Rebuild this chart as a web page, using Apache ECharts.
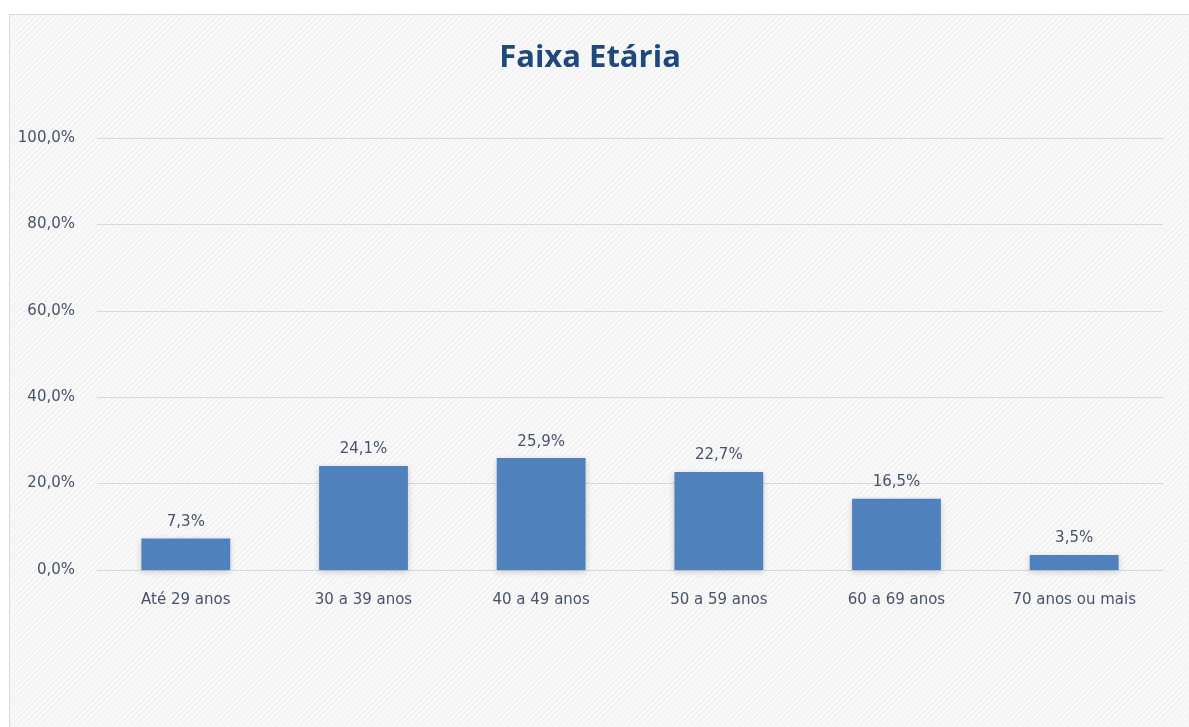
<!DOCTYPE html>
<html>
<head>
<meta charset="utf-8">
<title>Faixa Etária</title>
<script src="https://cdn.jsdelivr.net/npm/echarts@6/dist/echarts.min.js"></script>
<style>
  html, body { margin: 0; padding: 0; background: #fff; overflow: hidden; }
  .panel {
    position: absolute; left: 9px; top: 14px; width: 1200px; height: 730px;
    border: 1px solid #d9d9d9;
    background: #f7f7f7 repeating-linear-gradient(135deg, #f9f9f9 0px, #f9f9f9 2px, #f3f3f3 2px, #f3f3f3 4px);
  }
  #chart { position: absolute; left: 0; top: 0; width: 1189px; height: 727px; }
</style>
</head>
<body>
<div class="panel"></div>
<div id="chart"></div>
<script>
  // dados
  const categories = ['Até 29 anos', '30 a 39 anos', '40 a 49 anos', '50 a 59 anos', '60 a 69 anos', '70 anos ou mais'];
  const values = [7.3, 24.1, 25.9, 22.7, 16.5, 3.5];
  const yTicks = [0, 20, 40, 60, 80, 100];

  const fmt = v => v.toFixed(1).replace('.', ',') + '%';
  const txt = { fontFamily: 'DejaVu Sans', fontSize: 15, color: '#44546a' };

  const chart = echarts.init(document.getElementById('chart'));
  const option = {
    backgroundColor: 'transparent',
    animation: false,
    title: {
      text: 'Faixa Etária',
      left: 585,
      textAlign: 'center',
      top: 38,
      textStyle: {
        fontFamily: 'Open Sans',
        fontWeight: 'bold',
        fontSize: 31,
        color: '#1f497d'
      }
    },
    grid: { left: 97, right: 26, top: 138, bottom: 157 },
    xAxis: {
      type: 'category',
      data: categories,
      axisLine: { show: true, lineStyle: { color: '#d9d9d9' } },
      axisTick: { show: false },
      axisLabel: Object.assign({ margin: 23 }, txt)
    },
    yAxis: {
      type: 'value',
      min: yTicks[0],
      max: yTicks[yTicks.length - 1],
      interval: 20,
      axisLine: { show: false },
      axisTick: { show: false },
      splitLine: { lineStyle: { color: '#d9d9d9' } },
      axisLabel: Object.assign({ margin: 22, formatter: v => fmt(v) }, txt)
    },
    series: [{
      type: 'bar',
      data: values,
      barWidth: '50%',
      itemStyle: {
        color: '#4f81bd',
        shadowBlur: 6,
        shadowColor: 'rgba(0,0,0,0.18)',
        shadowOffsetY: 2
      },
      label: Object.assign({
        show: true,
        position: 'top',
        distance: 9,
        formatter: p => fmt(p.value)
      }, txt)
    }]
  };
  chart.setOption(option);
</script>
</body>
</html>
